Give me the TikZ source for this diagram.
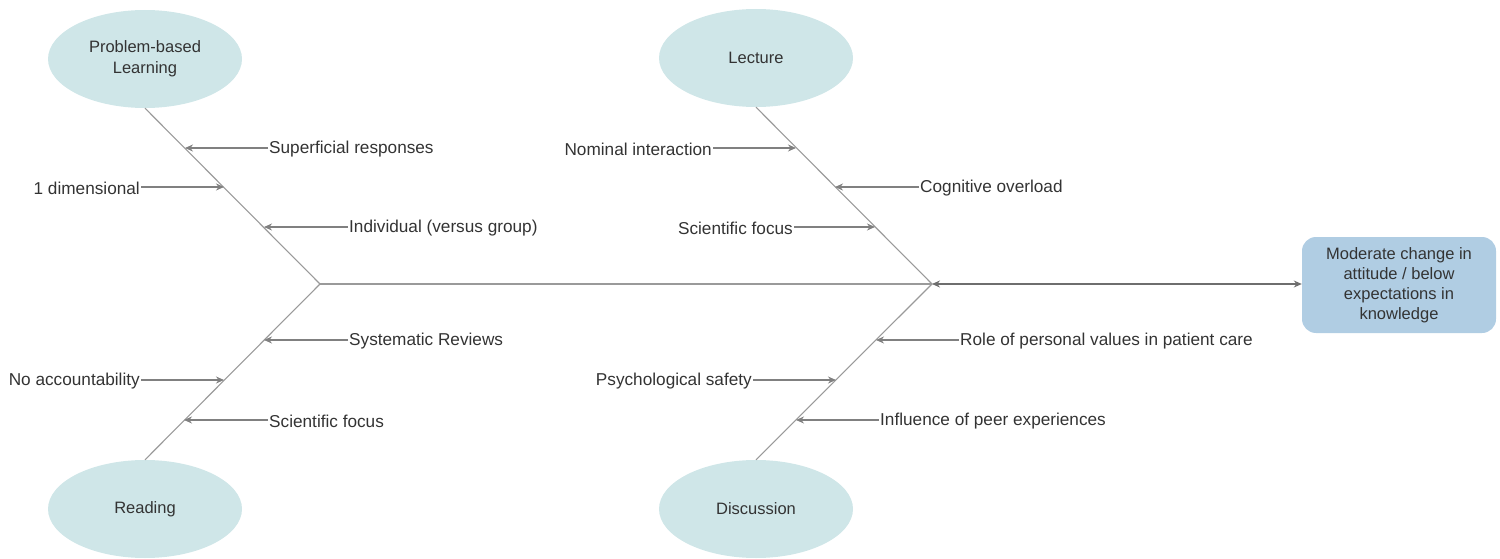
\documentclass[tikz,border=0pt]{standalone}
\usepackage{fontspec}
\setmainfont{Liberation Sans}
\usetikzlibrary{shapes.geometric,arrows.meta}
\definecolor{ellfill}{HTML}{CFE6E8}
\definecolor{boxfill}{HTML}{B0CDE3}
\definecolor{txt}{HTML}{333333}
\definecolor{bone}{HTML}{9A9A9A}
\definecolor{rib}{HTML}{808080}
\definecolor{spinec}{HTML}{6E6E6E}
\tikzset{
  cat/.style={ellipse, fill=ellfill, minimum width=194pt, minimum height=98pt, inner sep=0pt, align=center, text=txt, font=\fontsize{16.5}{21}\selectfont},
  lbl/.style={inner sep=1pt, text=txt, font=\fontsize{17.2}{20}\selectfont},
  bonel/.style={draw=bone, line width=1.1pt},
  ribl/.style={draw=rib, line width=1.3pt, -{Stealth[length=8pt,width=7pt]}},
  effect/.style={draw=none, fill=boxfill, rounded corners=14pt, minimum width=194pt, minimum height=96pt, align=center, text=txt, font=\fontsize{16.5}{20}\selectfont}
}
\begin{document}
\begin{tikzpicture}[x=1pt,y=-1pt]
\useasboundingbox (0,0) rectangle (1500,559);
% categories
\node[cat] (pbl) at (145,59) {Problem-based\\Learning};
\node[cat] (lec) at (756,58) {Lecture};
\node[cat] (rea) at (145,509) {Reading};
\node[cat] (dis) at (756,509) {Discussion};
\node[effect] (eff) at (1399,285) {Moderate change in\\attitude / below\\expectations in\\knowledge};
% joints
\coordinate (j1) at (320,284);
\coordinate (j2) at (932,284);
% bones
\draw[bonel] (pbl.south) -- (j1) -- (rea.north);
\draw[bonel] (lec.south) -- (j2) -- (dis.north);
\draw[bonel] (j1) -- (j2);
\draw[draw=spinec, line width=2pt, {Stealth[length=8pt,width=7pt]}-{Stealth[length=8pt,width=7pt]}] (j2) -- (eff.west |- j2);
% rib targets
\coordinate (p1) at (185,148);
\coordinate (p2) at (224,187);
\coordinate (p3) at (264,227);
\coordinate (r1) at (264,340);
\coordinate (r2) at (224,380);
\coordinate (r3) at (184,420);
\coordinate (l1) at (796,148);
\coordinate (l2) at (835,187);
\coordinate (l3) at (875,227);
\coordinate (d1) at (876,340);
\coordinate (d2) at (836,380);
\coordinate (d3) at (796,420);
% labels
\node[lbl, anchor=west] (tp1) at (268,149) {Superficial responses};
\node[lbl, anchor=east] (tp2) at (141,188) {1 dimensional};
\node[lbl, anchor=west] (tp3) at (348,228) {Individual (versus group)};
\node[lbl, anchor=west] (tr1) at (348,341) {Systematic Reviews};
\node[lbl, anchor=east] (tr2) at (141,381) {No accountability};
\node[lbl, anchor=west] (tr3) at (268,421) {Scientific focus};
\node[lbl, anchor=east] (tl1) at (713,149) {Nominal interaction};
\node[lbl, anchor=west] (tl2) at (919,188) {Cognitive overload};
\node[lbl, anchor=east] (tl3) at (794,228) {Scientific focus};
\node[lbl, anchor=west] (td1) at (959,341) {Role of personal values in patient care};
\node[lbl, anchor=east] (td2) at (753,381) {Psychological safety};
\node[lbl, anchor=west] (td3) at (879,421) {Influence of peer experiences};
% ribs
\foreach \t/\p in {tp1/p1,tp3/p3,tr1/r1,tr3/r3,tl2/l2,td1/d1,td3/d3}
  \draw[ribl] (\t.west |- \p) -- (\p);
\foreach \t/\p in {tp2/p2,tr2/r2,tl1/l1,tl3/l3,td2/d2}
  \draw[ribl] (\t.east |- \p) -- (\p);
\end{tikzpicture}
\end{document}
